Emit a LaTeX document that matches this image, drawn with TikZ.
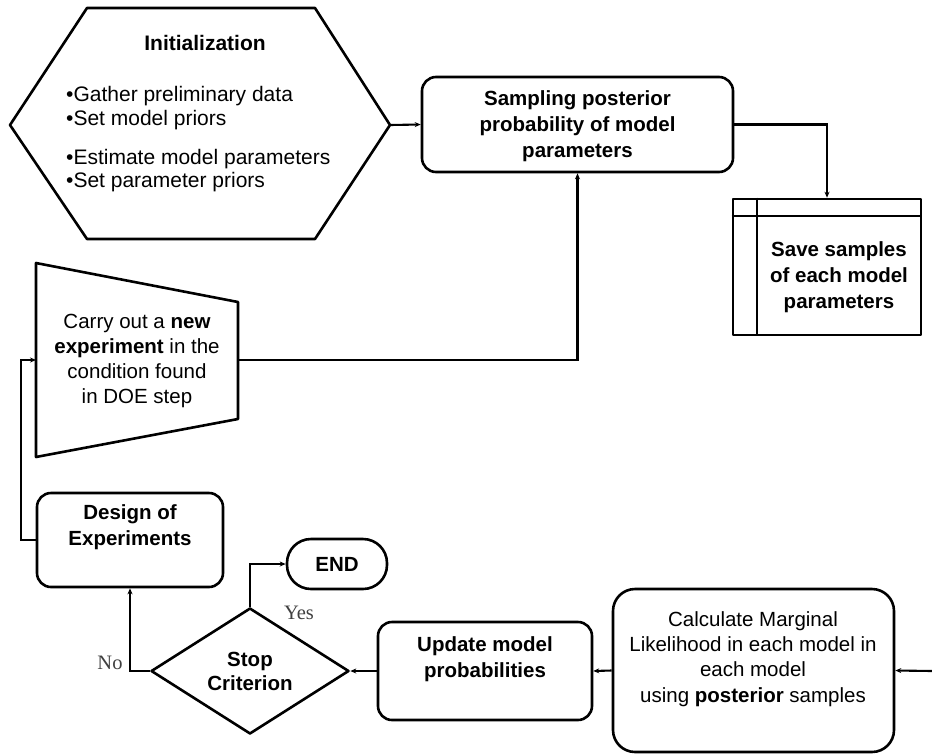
\documentclass[tikz,border=0pt]{standalone}
\usepackage{fontspec}
\setmainfont{Liberation Sans}
\newfontfamily\answerfont{Liberation Serif}
\usetikzlibrary{arrows.meta,shapes.geometric}

\begin{document}
\begin{tikzpicture}[x=1pt,y=-1pt,
  shapeline/.style={draw=black, line width=2.6pt, line join=round},
  rbox/.style={shapeline, rounded corners=14pt, inner sep=0pt},
  flow/.style={draw=black, line width=2.1pt, -{Stealth[length=6pt,width=5pt]}},
  txt/.style={align=center, inner sep=0pt, font=\fontsize{20.5}{25.3}\selectfont},
  btxt/.style={txt, font=\fontsize{20.5}{26}\selectfont\bfseries},
  answer/.style={inner sep=0pt, text=black!75, font=\answerfont\fontsize{20.5}{22}\selectfont}]
\useasboundingbox (0,0) rectangle (932,753);

% --- Initialization hexagon
\coordinate (hexL) at (10,125);
\coordinate (hexR) at (390,125);
\draw[shapeline] (hexL) -- (87,8) -- (315,8) -- (hexR) -- (315,239) -- (87,239) -- cycle;
\node[btxt, font=\fontsize{21}{26}\selectfont\bfseries] (inittitle) at (205,43) {Initialization};
\begin{scope}[every node/.style={anchor=west, inner sep=0pt, font=\fontsize{21}{23}\selectfont}]
  \node (i1) at (66,96)  {•Gather preliminary data};
  \node (i2) at (66,120) {•Set model priors};
  \node (i3) at (66,159) {•Estimate model parameters};
  \node (i4) at (66,182) {•Set parameter priors};
\end{scope}

% --- Sampling box
\node[rbox, minimum width=311pt, minimum height=95pt] (samp) at (577.5,124.5) {};
\node[btxt] (samptxt) at (577.5,126) {Sampling posterior\\probability of model\\parameters};

% --- Save samples (stored data)
\node[shapeline, rectangle, inner sep=0pt, minimum width=188pt, minimum height=136pt] (save) at (827,267) {};
\draw[shapeline] (save.north west |- 0,216) -- (save.north east |- 0,216);
\draw[shapeline] (757,0 |- save.north) -- (757,0 |- save.south);
\node[btxt] (savetxt) at (839,277) {Save samples\\of each model\\parameters};

% --- New experiment (trapezoid)
\coordinate (trL) at (36,360);
\coordinate (trR) at (238,360);
\draw[shapeline] (36,263) -- (238,302) -- (238,419) -- (36,457) -- cycle;
\node[txt] (trtxt) at (137,361) {Carry out a \textbf{new}\\\textbf{experiment} in the\\condition found\\in DOE step};

% --- Design of experiments
\node[rbox, minimum width=186pt, minimum height=94pt] (doe) at (130,540) {};
\node[btxt] (doetxt) at (130,527.5) {Design of\\Experiments};

% --- END terminal
\node[shapeline, rounded corners=24pt, inner sep=0pt, minimum width=100pt, minimum height=50pt,
      font=\fontsize{20.5}{22}\selectfont\bfseries] (end) at (337,564) {END};

% --- Stop criterion decision
\node[shapeline, diamond, inner sep=0pt, minimum width=198pt, minimum height=126pt] (stop) at (250,671) {};
\node[btxt, font=\fontsize{20.5}{24}\selectfont\bfseries] (stoptxt) at (250,671) {Stop\\Criterion};

% --- Update model probabilities
\node[rbox, minimum width=214pt, minimum height=98pt] (upd) at (485,671) {};
\node[btxt] (updtxt) at (485,659.5) {Update model\\probabilities};

% --- Marginal likelihood
\node[rbox, rounded corners=22pt, minimum width=281pt, minimum height=163pt] (marg) at (753.5,670.5) {};
\node[txt] (margtxt) at (753,659) {Calculate Marginal\\Likelihood in each model in\\each model\\using \textbf{posterior} samples};
\coordinate (inR) at (932,671);

% --- Connectors
\draw[flow] (hexR) -- (samp.west);
\draw[flow] (samp.east) -| (save.north);
\draw[flow] (trR) -| (samp.south);
\draw[flow] (doe.west) -- (21,540) |- (trL);
\draw[flow] (inR) -- (marg.east);
\draw[flow] (marg.west) -- (upd.east);
\draw[flow] (upd.west) -- (stop.east);
\draw[flow] (stop.north) |- (end.west);
\draw[flow] (stop.west) -| (doe.south);

\node[answer] (yes) at (299,613) {Yes};
\node[answer] (no) at (110,663) {No};
\end{tikzpicture}
\end{document}
